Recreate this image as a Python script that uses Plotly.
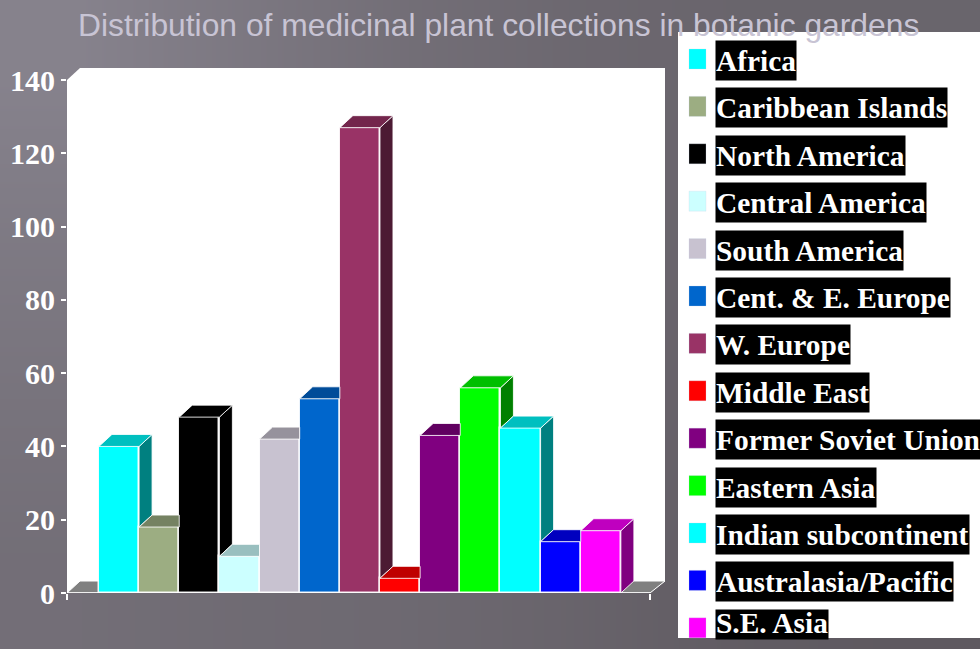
import plotly.graph_objects as go

regions = ["Africa", "Caribbean Islands", "North America", "Central America", "South America",
           "Cent. & E. Europe", "W. Europe", "Middle East", "Former Soviet Union", "Eastern Asia",
           "Indian subcontinent", "Australasia/Pacific", "S.E. Asia"]
collections = [40, 18, 48, 10, 42, 53, 127, 4, 43, 56, 45, 14, 17]
colors = ["#00FFFF", "#9CAD82", "#000000", "#CCFFFF", "#C8C2D0", "#0066CC", "#993366",
          "#FF0000", "#800080", "#00FF00", "#00FFFF", "#0000FF", "#FF00FF"]
y_ticks = [0, 20, 40, 60, 80, 100, 120, 140]
title_text = "Distribution of medicinal plant collections in botanic gardens"

# slide backdrop brightness (rows top to bottom)
backdrop = [[0.88, 0.68, 0.50, 0.38, 0.32, 0.32],
            [0.72, 0.60, 0.50, 0.38, 0.28, 0.25],
            [0.60, 0.50, 0.44, 0.34, 0.22, 0.20],
            [0.50, 0.44, 0.40, 0.30, 0.15, 0.10]]

W, H = 980, 649
PX_PER_BAR = 40.15
PX_PER_UNIT = 3.664
FIRST_CENTER_PX = 119
x_of = lambda px: (px - FIRST_CENTER_PX) / PX_PER_BAR
dx = 13 / PX_PER_BAR
dy = 12 / PX_PER_UNIT
x_lo, x_front, x_hi = x_of(67), x_of(650), x_of(665)
y_hi = (593 - 68) / PX_PER_UNIT


def shade(hex_color, k):
    r, g, b = (int(hex_color[i:i + 2], 16) for i in (1, 3, 5))
    return f"rgb({r * k:.0f},{g * k:.0f},{b * k:.0f})"


def poly(points, fill):
    xs, ys = zip(*points)
    return go.Scatter(x=list(xs) + [xs[0]], y=list(ys) + [ys[0]], mode="lines", fill="toself",
                      fillcolor=fill, line=dict(color="rgba(255,255,255,0.85)", width=1),
                      xaxis="x2", yaxis="y2", showlegend=False, hoverinfo="skip")


fig = go.Figure()
fig.add_trace(go.Heatmap(z=backdrop[::-1], zmin=0, zmax=1, zsmooth="best", showscale=False, hoverinfo="skip",
                         colorscale=[[0, "#59545A"], [1, "#8C8893"]]))
fig.add_trace(go.Bar(x=list(range(len(collections))), y=collections, width=1, xaxis="x2", yaxis="y2",
                     marker=dict(color=colors, line=dict(color="rgba(255,255,255,0.9)", width=1.5)),
                     showlegend=False, hovertext=regions, hoverinfo="text+y"))

for i, (v, c) in enumerate(zip(collections, colors)):
    x0, x1 = i - 0.5, i + 0.5
    nxt = collections[i + 1] if i + 1 < len(collections) else 0
    if nxt >= v:
        top = [(x0, v), (x1, v), (x1, v + dy), (x0 + dx, v + dy)]
    else:
        top = [(x0, v), (x1, v), (x1 + dx, v + dy), (x0 + dx, v + dy)]
        fig.add_trace(poly([(x1, v), (x1 + dx, v + dy), (x1 + dx, nxt + dy), (x1, nxt)], shade(c, 0.5)))
    fig.add_trace(poly(top, shade(c, 0.75)))

shapes = [
    dict(type="path", xref="x2", yref="y2", layer="below", fillcolor="white", line=dict(width=0),
         path=f"M {x_lo} 0 L {x_lo} 140 L {x_lo + dx} {y_hi} L {x_hi} {y_hi} L {x_hi} {dy} L {x_front} 0 Z"),
    dict(type="path", xref="x2", yref="y2", layer="below", fillcolor="#808080", line=dict(color="white", width=1),
         path=f"M {x_lo} 0 L {x_lo + dx} {dy} L {x_hi} {dy} L {x_front} 0 Z"),
    dict(type="line", xref="x2", yref="y2", x0=x_lo, x1=x_lo, y0=0, y1=140, line=dict(color="white", width=1.5)),
    dict(type="line", xref="x2", yref="y2", x0=x_lo, x1=x_front, y0=0, y1=0, line=dict(color="white", width=1.5)),
    dict(type="rect", xref="paper", yref="paper", layer="above", fillcolor="white", line=dict(width=0),
         x0=678 / W, x1=1, y0=1 - 638 / H, y1=1 - 32 / H),
]

annotations = [dict(text=title_text, xref="paper", yref="paper", x=76 / W, y=1 - 25 / H, xanchor="left",
                    yanchor="middle", showarrow=False,
                    font=dict(family="Liberation Sans", size=31.8, color="#C8C4D4"))]

LEG_TOP, LEG_STEP = 59, 47.4
for i, (name, c) in enumerate(zip(regions, colors)):
    cy = LEG_TOP + LEG_STEP * i
    shapes.append(dict(type="rect", xref="paper", yref="paper", layer="above", fillcolor=c,
                       line=dict(color="rgba(200,210,230,0.5)", width=0.5),
                       x0=689 / W, x1=706 / W, y0=1 - (cy + 10) / H, y1=1 - (cy - 10) / H))
    ann = dict(text=name, xref="paper", yref="paper", x=715 / W, xanchor="left", showarrow=False,
               bgcolor="black", borderpad=0, align="left",
               font=dict(family="Liberation Serif", size=29.4, weight=700, color="white"))
    if i == len(regions) - 1:
        ann.update(y=1 - 609 / H, yanchor="top", height=29, valign="bottom")
    else:
        ann.update(y=1 - (cy + 1.5) / H, yanchor="middle", height=39, valign="middle")
    annotations.append(ann)

fig.update_layout(
    width=W, height=H, margin=dict(l=0, r=0, t=0, b=0, autoexpand=False), paper_bgcolor="#6E6A70",
    plot_bgcolor="rgba(0,0,0,0)",
    xaxis=dict(domain=[0, 1], visible=False, fixedrange=True),
    yaxis=dict(domain=[0, 1], visible=False, fixedrange=True),
    xaxis2=dict(domain=[67 / W, 665 / W], anchor="y2", range=[x_lo, x_hi], showgrid=False, zeroline=False,
                tickmode="array", tickvals=[x_lo, x_front], ticktext=["", ""], ticks="outside", ticklen=6,
                tickcolor="white", tickwidth=1.5, showline=False),
    yaxis2=dict(domain=[1 - 593 / H, 1 - 68 / H], anchor="x2", range=[0, y_hi], showgrid=False, zeroline=False,
                tickmode="array", tickvals=y_ticks, ticks="outside", ticklen=5, tickcolor="white", tickwidth=1.5,
                showline=False, tickfont=dict(family="Liberation Serif", size=30, weight=700, color="white")),
    shapes=shapes, annotations=annotations, bargap=0, hovermode="closest",
)

fig.write_html("out.html", config={"displayModeBar": False},
               post_script="document.body.style.margin='0';document.body.style.overflow='hidden';")
